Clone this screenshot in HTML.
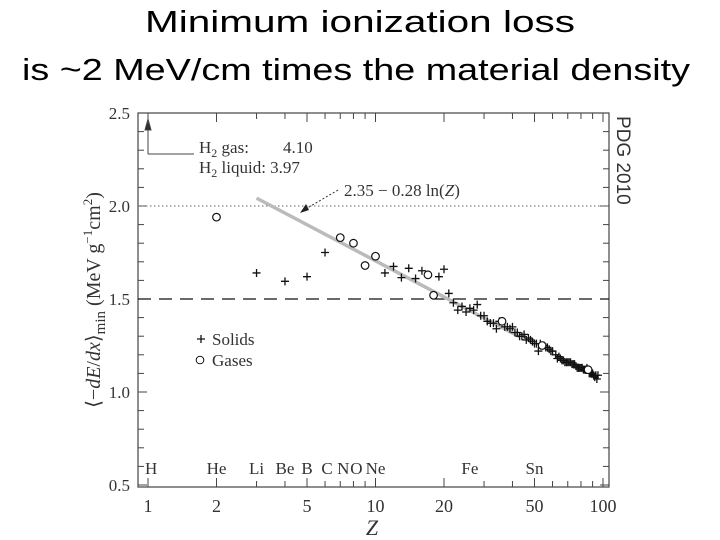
<!DOCTYPE html>
<html><head><meta charset="utf-8"><style>
body{margin:0;background:#fff;width:720px;height:540px;overflow:hidden}
svg{display:block}
.t{font-family:"Liberation Serif",serif;fill:#333}
</style></head><body>
<svg id="chart" width="720" height="540">
<text x="145" y="32" textLength="430" lengthAdjust="spacingAndGlyphs" font-family="Liberation Sans,sans-serif" font-size="31">Minimum ionization loss</text>
<text x="22" y="80" textLength="668" lengthAdjust="spacingAndGlyphs" font-family="Liberation Sans,sans-serif" font-size="31">is ~2 MeV/cm times the material density</text>
<g id="plot"></g>
</svg>
<script>
const solidZ=[3,4,5,6,11,12,13,14,15,16,19,20,21,22,23,24,25,26,27,28,29,30,31,32,33,34,35,37,38,39,40,41,42,43,44,45,46,47,48,49,50,51,52,53,55,56,57,58,59,60,62,63,64,65,66,67,68,69,70,71,72,73,74,75,76,77,78,79,80,81,82,83,84,85,87,88,89,90,91,92,93,94,95];
const solidV=[1.64,1.595,1.62,1.75,1.64,1.675,1.615,1.665,1.61,1.652,1.62,1.66,1.53,1.48,1.44,1.46,1.43,1.45,1.44,1.47,1.41,1.41,1.38,1.37,1.37,1.34,1.38,1.35,1.35,1.34,1.35,1.32,1.32,1.30,1.30,1.31,1.28,1.29,1.28,1.27,1.26,1.26,1.22,1.26,1.25,1.24,1.24,1.23,1.22,1.22,1.20,1.18,1.19,1.18,1.17,1.17,1.16,1.16,1.16,1.16,1.16,1.15,1.15,1.15,1.14,1.13,1.13,1.13,1.13,1.13,1.12,1.12,1.12,1.13,1.10,1.10,1.10,1.10,1.09,1.08,1.09,1.07,1.09];
const gasZ=[2,7,8,9,10,17,18,36,54,86];
const gasV=[1.94,1.83,1.80,1.68,1.73,1.63,1.52,1.38,1.25,1.12];
const xTicks=[1,2,3,4,5,6,7,8,9,10,20,30,40,50,60,70,80,90,100];
const xLabels=[1,2,5,10,20,50,100];
const yLabels=[0.5,1.0,1.5,2.0,2.5];
const elemNames=["H","He","Li","Be","B","C","N","O","Ne","Fe","Sn"];
const elemZ=[1,2,3,4,5,6,7,8,10,26,50];
const fitA=2.35, fitB=0.28, fitZ0=3, fitZ1=43;

const L=138,R=609,T=113,B=487;
const X=z=>148+227.5*Math.log10(z);
const Y=v=>206-(v-2.0)*186;
const NS="http://www.w3.org/2000/svg";
const g=document.getElementById('plot');
function el(tag,attrs,parent){const e=document.createElementNS(NS,tag);for(const k in attrs)e.setAttribute(k,attrs[k]);(parent||g).appendChild(e);return e;}

let f=el('rect',{x:L,y:T,width:R-L,height:B-T,fill:'none',stroke:'#444','stroke-width':1.2});


for(let v=0.5;v<=2.501;v+=0.1){
  const y=Y(v);const major=Math.abs(v*2-Math.round(v*2))<1e-6;const len=major?9:6;
  let a=el('line',{x1:L,x2:L+len,y1:y,y2:y,stroke:'#444'});
  
  
  let b=el('line',{x1:R,x2:R-len,y1:y,y2:y,stroke:'#444'});
  
  
}
yLabels.forEach(v=>{let t=el('text',{x:L-8,y:Y(v)+6,'text-anchor':'end','font-size':17,class:'t'});t.textContent=v.toFixed(1);
  
  });
xTicks.forEach(z=>{const x=X(z);const len=xLabels.includes(z)?9:6;
  let a=el('line',{x1:x,x2:x,y1:B,y2:B-len,stroke:'#444'});
  
  
  let b=el('line',{x1:x,x2:x,y1:T,y2:T+len,stroke:'#444'});
  
  });
xLabels.forEach(z=>{let t=el('text',{x:X(z),y:512,'text-anchor':'middle','font-size':18,class:'t'});t.textContent=z;
  
  });
elemNames.forEach((n,i)=>{let x=X(elemZ[i]);let t=el('text',{x:elemZ[i]==1?x-3:x,y:474,'text-anchor':elemZ[i]==1?'start':'middle','font-size':17,class:'t'});
  if(n=="C")t.setAttribute('x',x+2);
  if(n=="N"||n=="O")t.setAttribute('x',x+3);
  t.textContent=n;
  
  });
let d1=el('line',{x1:L,x2:R,y1:Y(2.0),y2:Y(2.0),stroke:'#666','stroke-dasharray':'1.5,2.5'});


let d2=el('line',{x1:L,x2:R,y1:Y(1.5),y2:Y(1.5),stroke:'#111','stroke-width':1.3,'stroke-dasharray':'13,8'});


let fit=el('line',{x1:X(fitZ0),y1:Y(fitA-fitB*Math.log(fitZ0)),x2:X(fitZ1),y2:Y(fitA-fitB*Math.log(fitZ1)),stroke:'#bbb','stroke-width':3.5});


solidZ.forEach((z,i)=>{const x=X(z),y=Y(solidV[i]);
  let p=el('path',{d:`M${x-4},${y}H${x+4}M${x},${y-4}V${y+4}`,stroke:'#111','stroke-width':1.3});
  
  });
gasZ.forEach((z,i)=>{let c=el('circle',{cx:X(z),cy:Y(gasV[i]),r:3.8,fill:'#fff',stroke:'#111','stroke-width':1.2});
  
  });
</script>
<svg width="720" height="540" style="position:absolute;left:0;top:0">
<text class="t" font-size="20" transform="translate(100,300) rotate(-90)" text-anchor="middle">⟨−<tspan font-style="italic">dE</tspan>/<tspan font-style="italic">dx</tspan>⟩<tspan font-size="15" dy="5">min</tspan><tspan dy="-5"> (MeV g</tspan><tspan font-size="13" dy="-8">−1</tspan><tspan dy="8">cm</tspan><tspan font-size="13" dy="-8">2</tspan><tspan dy="8">)</tspan></text>
<text class="t" font-size="22" font-style="italic" x="372" y="535" text-anchor="middle">Z</text>
<text font-family="Liberation Sans,sans-serif" font-size="19" fill="#333" transform="translate(617,116) rotate(90)">PDG 2010</text>
<path d="M148,154V121 M145,130 L148,119 L151,130Z M148,154H194" stroke="#444" fill="#222"/>
<text class="t" font-size="17" x="199" y="153">H<tspan font-size="12" dy="4">2</tspan><tspan dy="-4"> gas:</tspan><tspan x="283">4.10</tspan></text>
<text class="t" font-size="17" x="199" y="173">H<tspan font-size="12" dy="4">2</tspan><tspan dy="-4"> liquid: 3.97</tspan></text>
<text class="t" font-size="17" x="344" y="196">2.35 − 0.28 ln(<tspan font-style="italic">Z</tspan>)</text>
<path d="M338,190 L304,210" stroke="#333" stroke-dasharray="2,2"/>
<path d="M300,213 L306,204 L309,210Z" fill="#222"/>
<path d="M197,339H205M201,335V343" stroke="#111" stroke-width="1.3"/>
<text class="t" font-size="17" x="212" y="345">Solids</text>
<circle cx="200" cy="360" r="3.8" fill="#fff" stroke="#111"/>
<text class="t" font-size="17" x="212" y="366">Gases</text>
</svg>
</body></html>
